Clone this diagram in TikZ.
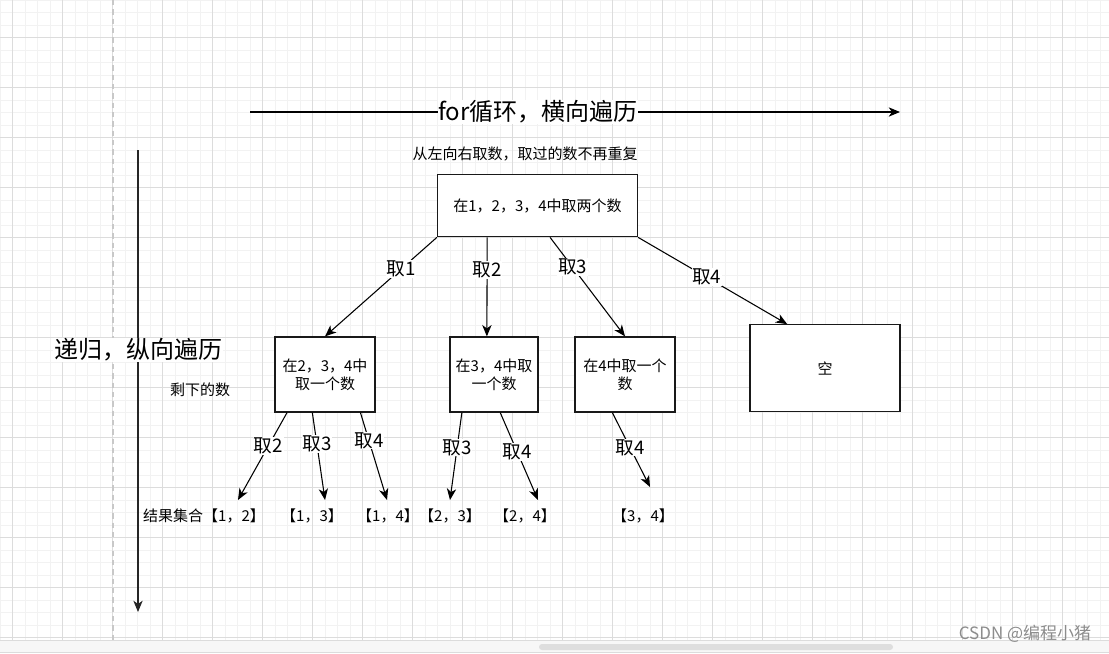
\documentclass[tikz,border=0pt]{standalone}
\usepackage{fontspec}
\setmainfont{Noto Sans CJK SC}
\usetikzlibrary{arrows.meta,calc}
\definecolor{gmin}{HTML}{F2F2F2}
\definecolor{gmaj}{HTML}{DCDCDC}
\definecolor{dashc}{HTML}{C8C8C8}
\definecolor{bandc}{HTML}{F7F7F7}
\definecolor{thumbc}{HTML}{DEDEDE}
\definecolor{wmark}{HTML}{8C8C8C}
\tikzset{
  box/.style={draw=black!90, line width=0.95pt, fill=white, inner sep=0pt, align=center,
    font=\fontsize{11.25pt}{13.5pt}\selectfont},
  arr/.style={draw=black, line width=0.8pt, -{Stealth[length=8.5pt,width=7pt,inset=2.5pt]}},
  lbl/.style={fill=white, inner sep=0.5pt, font=\fontsize{14pt}{16pt}\selectfont},
  biglbl/.style={fill=white, inner sep=0.5pt, font=\fontsize{18pt}{21pt}\selectfont},
  small/.style={inner sep=0pt, font=\fontsize{11.25pt}{13.5pt}\selectfont},
}
\begin{document}
\begin{tikzpicture}[x=0.75pt,y=-0.75pt]
\useasboundingbox (0,0) rectangle (1109,653);
\fill[white] (0,0) rectangle (1109,653);
% grid
\foreach \k in {0,...,88} {\draw[gmin, line width=0.75pt] ({\k*12.5},0) -- ({\k*12.5},640);}
\foreach \k in {0,...,51} {\draw[gmin, line width=0.75pt] (0,{\k*12.5}) -- (1109,{\k*12.5});}
\foreach \k in {0,...,21} {\draw[gmaj, line width=0.75pt] ({12.5+\k*50},0) -- ({12.5+\k*50},640);}
\foreach \k in {0,...,12} {\draw[gmaj, line width=0.75pt] (0,{37.5+\k*50}) -- (1109,{37.5+\k*50});}
% dashed guide
\draw[dashc, line width=0.9pt, dash pattern=on 4pt off 3pt] (113,0) -- (113,640);
% bottom band and scrollbar
\fill[bandc] (0,640) rectangle (1109,653);
\draw[gmaj, line width=0.75pt] (0,640.5) -- (1109,640.5);
\fill[thumbc, rounded corners=2.25pt] (539,644) rectangle (893,650);
\draw[gmaj, line width=0.75pt] (0,652.5) -- (1109,652.5);

% main axes
\coordinate (t0) at (250,112);
\coordinate (t1) at (900,112);
\draw[arr] (t0) -- (t1) node[biglbl, pos=0.443] (title) {for循环，横向遍历};
\coordinate (v0) at (138,150);
\coordinate (v1) at (138,612);
\draw[arr, draw=black!85] (v0) -- (v1) node[biglbl, pos=0.433] (vlabel) {递归，纵向遍历};

% texts
\node[small] (note) at (525,154) {从左向右取数，取过的数不再重复};
\node[small] (rest) at (200,390) {剩下的数};

% boxes
\node[box, minimum width=150pt, minimum height=46.5pt] (root) at (537.5,205.75) {在1，2，3，4中取两个数};
\node[box, minimum width=75pt, minimum height=56.25pt] (A) at (325,374.5) {在2，3，4中\\取一个数};
\node[box, minimum width=66pt, minimum height=56.25pt] (B) at (494,374.5) {在3，4中取\\一个数};
\node[box, minimum width=75pt, minimum height=56.25pt] (C) at (625,374.5) {在4中取一个\\数};
\node[box, minimum width=112.5pt, minimum height=65.25pt] (D) at (825,368.25) {空};

% root edges
\draw[arr] (root.south west) -- (A.north) node[lbl, pos=0.32] (l1) {取1};
\draw[arr] ($(root.south west)!0.25!(root.south east)$) -- ($(B.north west)!0.42!(B.north east)$) node[lbl, pos=0.33] (l2) {取2};
\draw[arr] ($(root.south west)!0.5625!(root.south east)$) -- (C.north) node[lbl, pos=0.30] (l3) {取3};
\draw[arr] (root.south east) -- ($(D.north west)!0.25!(D.north east)$) node[lbl, pos=0.46] (l4) {取4};

% result ends
\coordinate (e12) at (238,500);
\coordinate (e13) at (325,500);
\coordinate (e14) at (387,500);
\coordinate (e23) at (450,500);
\coordinate (e24) at (538,500);
\coordinate (e34) at (650,487);

\draw[arr] ($(A.south west)!0.125!(A.south east)$) -- (e12) node[lbl, pos=0.38] (a2) {取2};
\draw[arr] ($(A.south west)!0.375!(A.south east)$) -- (e13) node[lbl, pos=0.36] (a3) {取3};
\draw[arr] ($(A.south west)!0.85!(A.south east)$) -- (e14) node[lbl, pos=0.32] (a4) {取4};
\draw[arr] ($(B.south west)!0.14!(B.south east)$) -- (e23) node[lbl, pos=0.40] (b3) {取3};
\draw[arr] ($(B.south west)!0.57!(B.south east)$) -- (e24) node[lbl, pos=0.45] (b4) {取4};
\draw[arr] ($(C.south west)!0.375!(C.south east)$) -- (e34) node[lbl, pos=0.47] (c4) {取4};

% results
\node[small] (r12) at (204,516) {结果集合【1，2】};
\node[small] (r13) at (312,516) {【1，3】};
\node[small] (r14) at (388,516) {【1，4】};
\node[small] (r23) at (450,516) {【2，3】};
\node[small] (r24) at (525,516) {【2，4】};
\node[small] (r34) at (643,516) {【3，4】};

% watermark
\node[inner sep=0pt, text=wmark, font=\fontsize{12.75pt}{14pt}\selectfont] (wm) at (1025,634) {CSDN @编程小猪};
\end{tikzpicture}
\end{document}
